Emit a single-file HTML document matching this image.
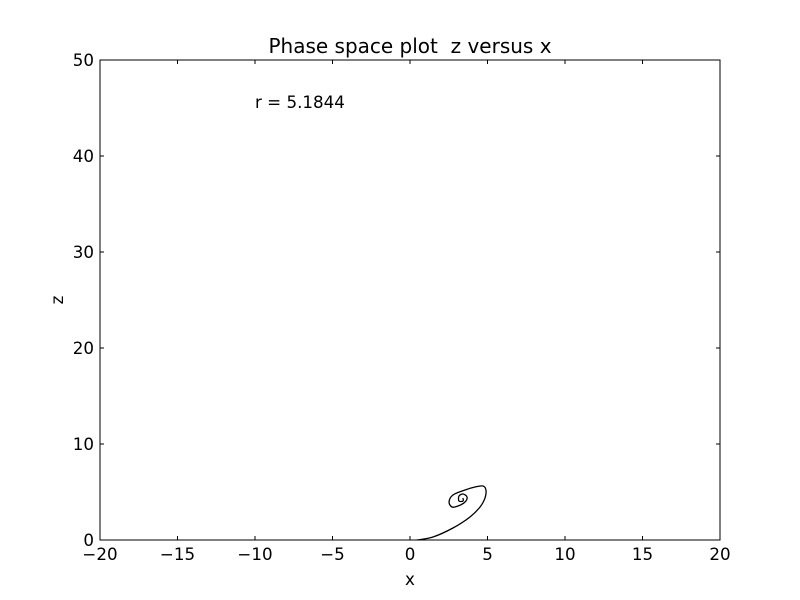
<!DOCTYPE html>
<html><head><meta charset="utf-8"><style>
body{margin:0;background:#fff}
svg{display:block;font-family:"DejaVu Sans","Liberation Sans",sans-serif}
text{white-space:pre}
</style></head><body>
<svg id="chart" width="800" height="600">
<rect width="800" height="600" fill="#fff"/>
</svg>
<script>
const xTicks=[-20,-15,-10,-5,0,5,10,15,20];
const zTicks=[0,10,20,30,40,50];
const trajX=[0.45,1.48,2.77,3.87,4.52,4.84,4.9,4.71,4.19,3.55,2.77,2.52,2.71,3.1,3.55,3.68,3.42,3.16,3.16,3.42,3.42];
const trajZ=[0,0.31,1.25,2.4,3.44,4.38,5.21,5.63,5.52,5.21,4.69,3.96,3.44,3.54,3.96,4.48,4.79,4.58,4.06,4.06,4.38];
const L=100,R=720,T=60,B=540;
const sx=v=>L+(v+20)/40*(R-L);
const sy=v=>B-v/50*(B-T);
const svg=document.getElementById('chart');
const NS='http://www.w3.org/2000/svg';
function mk(t,a,p){const e=document.createElementNS(NS,t);for(const k in a)e.setAttribute(k,a[k]);(p||svg).appendChild(e);return e;}
let pts=trajX.map((x,i)=>[sx(x),sy(trajZ[i])]);
let d='M'+pts[0][0]+','+pts[0][1];
for(let i=0;i<pts.length-1;i++){
 const p0=pts[Math.max(0,i-1)],p1=pts[i],p2=pts[i+1],p3=pts[Math.min(pts.length-1,i+2)];
 const c1=[p1[0]+(p2[0]-p0[0])/6,p1[1]+(p2[1]-p0[1])/6];
 const c2=[p2[0]-(p3[0]-p1[0])/6,p2[1]-(p3[1]-p1[1])/6];
 d+=` C${c1[0]},${c1[1]} ${c2[0]},${c2[1]} ${p2[0]},${p2[1]}`;
}
const line=mk('path',{d:d,fill:'none',stroke:'#000','stroke-width':1.3});


const frame=mk('rect',{x:L,y:T,width:R-L,height:B-T,fill:'none',stroke:'#000','stroke-width':1});


xTicks.forEach(v=>{
 const x=sx(v);
 mk('line',{x1:x,y1:B,x2:x,y2:B-4,stroke:'#000'});
 mk('line',{x1:x,y1:T,x2:x,y2:T+4,stroke:'#000'});
 const t=mk('text',{x:x,y:B+20,'text-anchor':'middle','font-size':16.7});
 t.textContent=v<0?'\u2212'+(-v):v;
 
 
});
zTicks.forEach(v=>{
 const y=sy(v);
 mk('line',{x1:L,y1:y,x2:L+4,y2:y,stroke:'#000'});
 mk('line',{x1:R,y1:y,x2:R-4,y2:y,stroke:'#000'});
 const t=mk('text',{x:L-6,y:y+6,'text-anchor':'end','font-size':16.7});
 t.textContent=v;
 
 
});
const title=mk('text',{x:410,y:53,'text-anchor':'middle','font-size':20});
title.textContent='Phase space plot  z versus x';


const xl=mk('text',{x:410,y:585,'text-anchor':'middle','font-size':16.7});
xl.textContent='x';


const zl=mk('text',{x:63,y:300,'text-anchor':'middle','font-size':16.7,transform:'rotate(-90 63 300)'});
zl.textContent='z';


const ann=mk('text',{x:sx(-10),y:108,'font-size':16.7});
ann.textContent='r = 5.1844';


</script>
</body></html>
